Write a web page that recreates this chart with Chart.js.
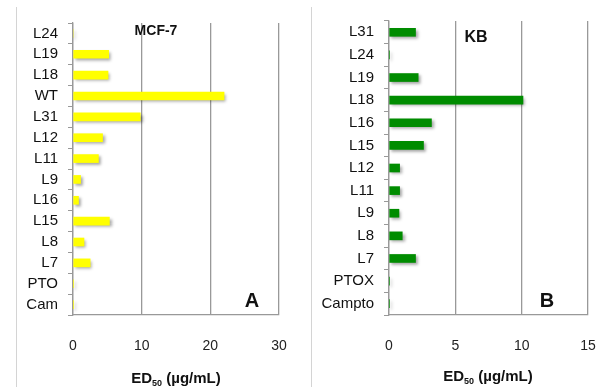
<!DOCTYPE html>
<html>
<head>
<meta charset="utf-8">
<script src="https://cdn.jsdelivr.net/npm/chart.js@4/dist/chart.umd.min.js"></script>
<style>
  body { margin: 0; background: #fff; }
  .wrap { position: relative; width: 600px; height: 387px; overflow: hidden; font-family: 'Liberation Sans', Arial, sans-serif; color: #111; }
  canvas { position: absolute; top: 0; }
  .vline { position: absolute; top: 7px; bottom: 0; width: 1px; background: #d4d4d4; }
  .lbl { position: absolute; font-weight: bold; white-space: nowrap; transform: translate(-50%, -50%); }
  .lbl sub { font-size: 9px; vertical-align: -3px; }
  .big { font-size: 20px; }
</style>
</head>
<body>
<div class="wrap">
  <canvas id="mcf" width="300" height="387" style="left:0"></canvas>
  <canvas id="kb" width="300" height="387" style="left:300px"></canvas>
  <div class="vline" style="left:16px"></div>
  <div class="vline" style="left:311px"></div>
  <div class="lbl" style="left:156px; top:30px; font-size:14px">MCF-7</div>
  <div class="lbl" style="left:476px; top:37px; font-size:16px">KB</div>
  <div class="lbl big" style="left:252px; top:300px">A</div>
  <div class="lbl big" style="left:547px; top:300px">B</div>
  <div class="lbl" style="left:176px; top:378px; font-size:15px">ED<sub>50</sub> (µg/mL)</div>
  <div class="lbl" style="left:488px; top:376px; font-size:15px">ED<sub>50</sub> (µg/mL)</div>
</div>
<script>
/* data (top to bottom) */
const mcfLabels = ['L24', 'L19', 'L18', 'WT', 'L31', 'L12', 'L11', 'L9', 'L16', 'L15', 'L8', 'L7', 'PTO', 'Cam'];
const mcfValues = [0, 5.2, 5.1, 22.0, 9.8, 4.3, 3.7, 1.1, 0.8, 5.3, 1.6, 2.5, 0.1, 0.1];
const mcfTicks = [0, 10, 20, 30];

const kbLabels = ['L31', 'L24', 'L19', 'L18', 'L16', 'L15', 'L12', 'L11', 'L9', 'L8', 'L7', 'PTOX', 'Campto'];
const kbValues = [2.0, 0.05, 2.2, 10.1, 3.2, 2.6, 0.8, 0.8, 0.75, 1.0, 2.0, 0.05, 0.05];
const kbTicks = [0, 5, 10, 15];

const fontName = "'Liberation Sans', Arial, sans-serif";

/* soft drop shadow under the bars */
const barShadow = {
    id: 'barShadow',
    beforeDatasetsDraw(chart) {
        const c = chart.ctx;
        c.save();
        c.shadowColor = 'rgba(0,0,0,0.35)';
        c.shadowBlur = 3;
        c.shadowOffsetX = 2;
        c.shadowOffsetY = 2;
    },
    afterDatasetsDraw(chart) {
        chart.ctx.restore();
    }
};

function makeChart(id, labels, values, ticks, color, yWidth, pad) {
    const ctx = document.getElementById(id).getContext('2d');
    return new Chart(ctx, {
        type: 'bar',
        data: {
            labels: labels,
            datasets: [{
                data: values,
                backgroundColor: color,
                borderWidth: 0,
                barThickness: 8
            }]
        },
        plugins: [barShadow],
        options: {
            indexAxis: 'y',
            responsive: false,
            animation: false,
            devicePixelRatio: 1,
            layout: { padding: pad },
            plugins: { legend: { display: false }, tooltip: { enabled: false } },
            scales: {
                x: {
                    min: ticks[0],
                    max: ticks[ticks.length - 1],
                    afterBuildTicks: function(scale) {
                        scale.ticks = ticks.map(v => ({ value: v }));
                    },
                    afterFit: function(scale) {
                        scale.height = 72;
                        scale.paddingLeft = 0;
                        scale.paddingRight = 0;
                    },
                    grid: { color: '#999', lineWidth: 1.3, drawTicks: false },
                    border: { color: '#999', width: 1.3 },
                    ticks: { padding: 23, color: '#222', font: { family: fontName, size: 14 } }
                },
                y: {
                    afterFit: function(scale) { scale.width = yWidth; },
                    grid: { drawOnChartArea: false, tickLength: 5, color: '#999' },
                    border: { color: '#999', width: 1.3 },
                    ticks: { autoSkip: false, padding: 10, color: '#111', font: { family: fontName, size: 15 } }
                }
            }
        }
    });
}

makeChart('mcf', mcfLabels, mcfValues, mcfTicks, '#ffff00', 73, { top: 23, right: 21, bottom: 0, left: 0 });
makeChart('kb', kbLabels, kbValues, kbTicks, '#008c00', 89, { top: 21, right: 12, bottom: 0, left: 0 });
</script>
</body>
</html>
